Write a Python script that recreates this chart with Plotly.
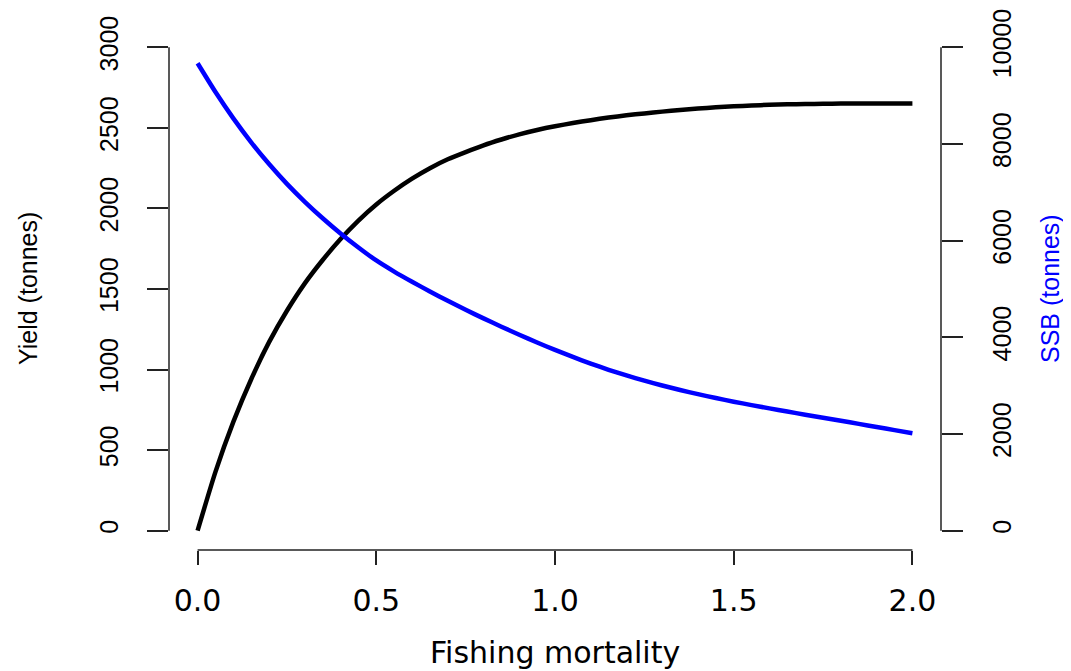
import plotly.graph_objects as go

# Data
F = [0.0, 0.05, 0.1, 0.15, 0.2, 0.25, 0.3, 0.35, 0.4, 0.45, 0.5, 0.55, 0.6, 0.65, 0.7,
     0.75, 0.8, 0.85, 0.9, 0.95, 1.0, 1.05, 1.1, 1.15, 1.2, 1.25, 1.3, 1.35, 1.4, 1.45,
     1.5, 1.55, 1.6, 1.65, 1.7, 1.75, 1.8, 1.85, 1.9, 1.95, 2.0]
yield_t = [0, 365, 675, 940, 1170, 1365, 1535, 1680, 1810, 1925, 2025, 2110, 2185, 2250,
           2305, 2350, 2392, 2428, 2460, 2487, 2510, 2530, 2548, 2564, 2578, 2590, 2601,
           2611, 2620, 2628, 2634, 2639, 2643, 2646, 2648, 2650, 2651, 2652, 2652, 2652, 2652]
ssb_t = [9670, 9075, 8530, 8035, 7585, 7175, 6805, 6465, 6150, 5860, 5590, 5360, 5150,
         4950, 4755, 4570, 4392, 4220, 4054, 3894, 3740, 3595, 3457, 3329, 3211, 3103,
         3003, 2910, 2824, 2744, 2669, 2598, 2530, 2464, 2400, 2337, 2275, 2210, 2145,
         2080, 2015]

x_ticks = [0, 0.5, 1.0, 1.5, 2.0]
x_ticktext = ["0.0", "0.5", "1.0", "1.5", "2.0"]
y_ticks = [0, 500, 1000, 1500, 2000, 2500, 3000]
y2_ticks = [0, 2000, 4000, 6000, 8000, 10000]
y2_ticktext = ["0", "2000", "4000", "6000", "8000", "10000"]

OFF = 8  # page body margin
W, H = 1071 - OFF, 671 - OFF
ML, MR, MT, MB = 169 - OFF, 130, 28 - OFF, 121
PW, PH = W - ML - MR, H - MT - MB

fig = go.Figure()
fig.add_trace(go.Scatter(x=F, y=yield_t, mode="lines",
                         line=dict(color="black", width=4.5, shape="spline", smoothing=0.6),
                         showlegend=False, yaxis="y"))
fig.add_trace(go.Scatter(x=F, y=ssb_t, mode="lines",
                         line=dict(color="#0000FF", width=4.5, shape="spline", smoothing=0.6),
                         showlegend=False, yaxis="y2"))

hfont = dict(family="DejaVu Sans", size=30, color="black")
vfont = dict(family="Liberation Sans", size=25, color="black")
axcol = "#222222"

fig.update_layout(
    width=W, height=H,
    margin=dict(l=ML, r=MR, t=MT, b=MB, autoexpand=False),
    plot_bgcolor="white", paper_bgcolor="white",
    xaxis=dict(range=[-0.08, 2.08], tickvals=x_ticks, ticktext=x_ticktext,
               showgrid=False, zeroline=False, showline=False,
               ticks="outside", ticklen=14, tickwidth=1.5, tickcolor=axcol,
               tickfont=hfont, ticklabelstandoff=10),
    yaxis=dict(range=[-120, 3120], tickvals=y_ticks, tickangle=-90,
               showgrid=False, zeroline=False, showline=False,
               ticks="outside", ticklen=21, tickwidth=1.5, tickcolor=axcol,
               tickfont=vfont, ticklabelstandoff=19),
    yaxis2=dict(range=[-400, 10400], tickvals=y2_ticks, ticktext=y2_ticktext, tickangle=-90,
                overlaying="y", side="right",
                showgrid=False, zeroline=False, showline=False,
                ticks="outside", ticklen=21, tickwidth=1.5, tickcolor=axcol,
                tickfont=vfont, ticklabelstandoff=18),
)

# R-style axis lines spanning from first to last tick
fig.add_shape(type="line", xref="x", yref="paper", x0=x_ticks[0], x1=x_ticks[-1], y0=0, y1=0,
              line=dict(color=axcol, width=1.5))
fig.add_shape(type="line", xref="paper", yref="y", x0=0, x1=0, y0=y_ticks[0], y1=y_ticks[-1],
              line=dict(color=axcol, width=1.5))
fig.add_shape(type="line", xref="paper", yref="y2", x0=1, x1=1, y0=y2_ticks[0], y1=y2_ticks[-1],
              line=dict(color=axcol, width=1.5))

# Axis titles (positions in screen pixels converted to paper coordinates)
fig.add_annotation(text="Fishing mortality", xref="paper", yref="paper",
                   x=0.5, y=-(652 - (28 + PH)) / PH, xanchor="center", yanchor="middle",
                   showarrow=False, font=hfont)
fig.add_annotation(text="Yield (tonnes)", xref="paper", yref="paper",
                   x=-(169 - 28) / PW, y=0.5, xanchor="center", yanchor="middle",
                   textangle=-90, showarrow=False, font=vfont)
fig.add_annotation(text="SSB (tonnes)", xref="paper", yref="paper",
                   x=(1050 - 169) / PW, y=0.5, xanchor="center", yanchor="middle",
                   textangle=-90, showarrow=False,
                   font=dict(family="Liberation Sans", size=25, color="#0000FF"))

fig.write_html("out.html")
